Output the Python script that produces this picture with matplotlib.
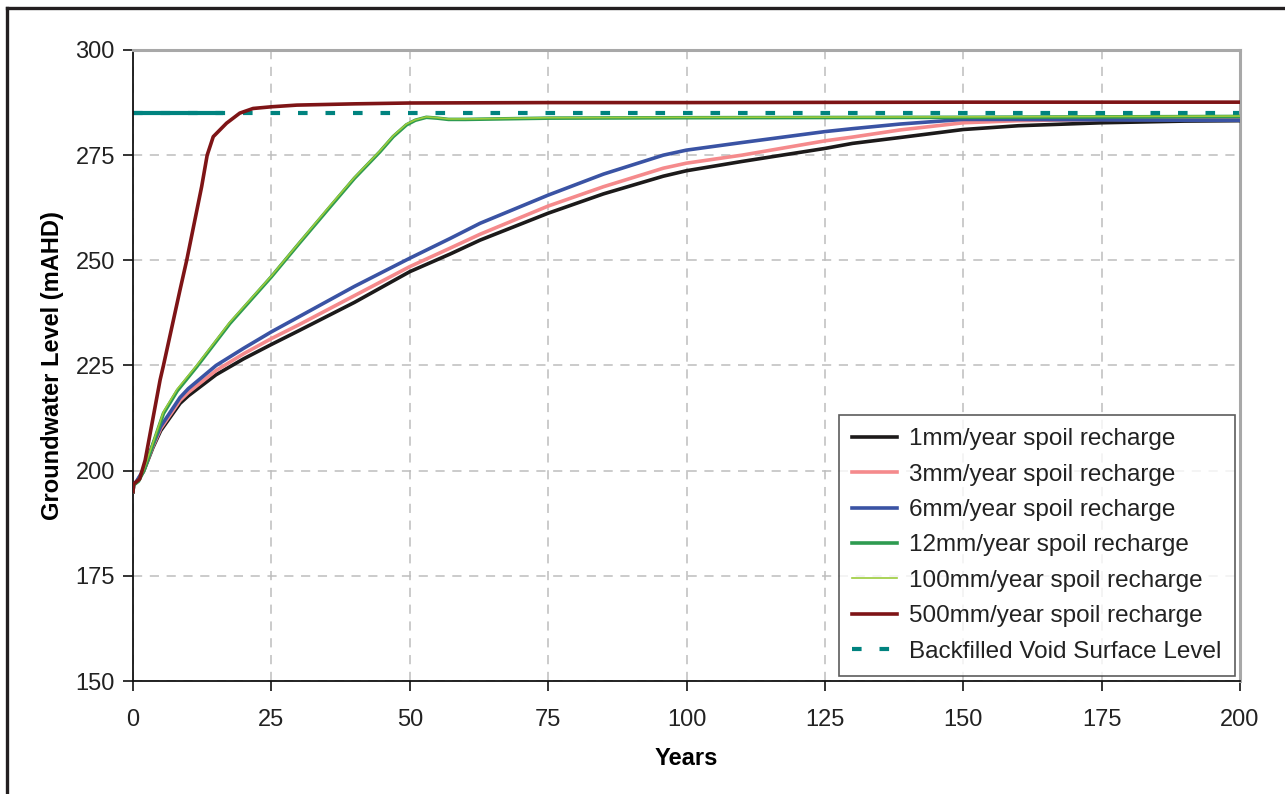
import numpy as np
import matplotlib
matplotlib.use('Agg')
import matplotlib.pyplot as plt
from matplotlib.lines import Line2D

plt.rcParams['font.family'] = ['Liberation Sans', 'DejaVu Sans']

# --- groundwater recovery series (years, mAHD) ---
years_slow = [0, 0.1, 0.7, 1.9, 3.6, 5, 8.5, 10, 15, 20, 25, 30, 40, 50, 57.3,
              62.7, 75, 85, 95.8, 100, 110, 125, 130, 138.6, 150, 160, 175,
              190, 200]
level_1mm = [195, 196.6, 197.4, 199.8, 205.5, 209.5, 216, 217.8, 222.8,
             226.6, 230, 233.3, 240, 247.3, 251.5, 254.8, 261.2, 265.8, 270,
             271.3, 273.5, 276.6, 277.8, 279.2, 281.1, 282, 282.7, 283.1,
             283.2]
level_3mm = [195, 196.6, 197.5, 200, 205.8, 210, 216.7, 218.6, 223.8, 227.8,
             231.4, 234.7, 241.6, 248.5, 252.9, 256.2, 262.9, 267.5, 271.9,
             273.1, 275, 278.4, 279.3, 281, 282.7, 283.2, 283.5, 283.5, 283.5]
level_6mm = [195, 196.6, 197.6, 200.2, 206.2, 210.5, 217.4, 219.5, 225, 229.1,
             233, 236.6, 243.8, 250.5, 255.2, 258.8, 265.5, 270.5, 275, 276.2,
             278, 280.6, 281.3, 282.4, 283.5, 283.5, 283.4, 283.3, 283.3]

years_12mm = [0, 0.1, 1, 2, 3, 5.5, 8, 11.5, 17.5, 25, 30, 35.6, 40, 44.6,
              47, 49.4, 51, 53, 55, 57, 60, 75, 100, 150, 200]
level_12mm = [195, 196.6, 197.5, 200.2, 204, 213.6, 219, 224.7, 235, 246.1,
              254, 262.7, 269.5, 275.8, 279.4, 282.2, 283.3, 284, 283.8,
              283.5, 283.5, 283.8, 283.9, 284, 284.2]
years_100mm = [0, 0.1, 1, 2, 3, 5.5, 8, 11.5, 17.5, 25, 30, 35.6, 40, 44.6,
               47, 49.4, 51, 53, 55, 57, 60, 75, 100, 150, 200]
level_100mm = [195, 196.6, 197.6, 200.4, 204.3, 214, 219.4, 225, 235.3, 246.3,
               254.2, 263, 269.7, 276, 279.6, 282.4, 283.4, 284.1, 283.9,
               283.6, 283.6, 283.9, 284, 284.1, 284.3]

years_500mm = [0, 0.1, 1.2, 2.2, 4.9, 5.5, 8.5, 9.7, 12.4, 13.4, 14.5, 16.9,
               19.3, 21.7, 25, 29.6, 40, 50, 75, 100, 150, 200]
level_500mm = [195, 196.8, 198, 202.5, 221.6, 225, 243, 250, 267.5, 275,
               279.4, 282.6, 285, 286.1, 286.5, 286.9, 287.2, 287.4, 287.5,
               287.5, 287.6, 287.6]

void_level = 285.0
void_years = [0, 200]
void_solid_end = 16.2

labels = ['1mm/year spoil recharge', '3mm/year spoil recharge',
          '6mm/year spoil recharge', '12mm/year spoil recharge',
          '100mm/year spoil recharge', '500mm/year spoil recharge',
          'Backfilled Void Surface Level']

fig = plt.figure(figsize=(12.85, 7.94), dpi=100)
ax = fig.add_axes([133 / 1285, 1 - 681 / 794, 1107 / 1285, 631 / 794])

teal = '#00837F'
ax.plot([0, void_solid_end], [void_level, void_level], color=teal, lw=3,
        solid_capstyle='butt', zorder=2)
ax.plot(void_years, [void_level] * 2, color=teal, lw=3,
        linestyle=(0, (2.3, 4.3)), zorder=2)

ax.plot(years_slow, level_1mm, color='#1C1A1A', lw=2.6, zorder=3)
ax.plot(years_slow, level_3mm, color='#F58A8C', lw=2.6, zorder=3)
ax.plot(years_slow, level_6mm, color='#3A53A4', lw=2.6, zorder=3)
ax.plot(years_12mm, level_12mm, color='#2E9B50', lw=2.6, zorder=3)
ax.plot(years_100mm, level_100mm, color='#9CCC3C', lw=1.2, zorder=4)
ax.plot(years_500mm, level_500mm, color='#7E1416', lw=2.6, zorder=5)

ax.set_xlim(0, 200)
ax.set_ylim(150, 300)
ax.set_xticks(np.arange(0, 201, 25))
ax.set_yticks(np.arange(150, 301, 25))
ax.grid(True, color='#BDBDBD', lw=1.1, linestyle=(0, (6, 5)))
ax.set_axisbelow(True)

for side in ['top', 'right']:
    ax.spines[side].set_color('#A8A8A8')
    ax.spines[side].set_linewidth(2.2)
for side in ['left', 'bottom']:
    ax.spines[side].set_color('#111111')
    ax.spines[side].set_linewidth(1.3)
ax.tick_params(axis='both', direction='out', length=7, width=1.2,
               labelsize=17, colors='#111111', labelcolor='#222222')
ax.tick_params(axis='x', pad=13)
ax.tick_params(axis='y', pad=6)

ax.set_xlabel('Years', fontsize=17, fontweight='bold', labelpad=12)
ax.set_ylabel('Groundwater Level (mAHD)', fontsize=17, fontweight='bold',
              labelpad=8)

handles = [
    Line2D([], [], color='#1C1A1A', lw=2.6),
    Line2D([], [], color='#F58A8C', lw=2.6),
    Line2D([], [], color='#3A53A4', lw=2.6),
    Line2D([], [], color='#2E9B50', lw=2.6),
    Line2D([], [], color='#9CCC3C', lw=1.2),
    Line2D([], [], color='#7E1416', lw=2.6),
    Line2D([], [], color=teal, lw=3, linestyle=(0, (2.3, 4.3))),
]
leg = ax.legend(handles, labels, loc='lower right',
                bbox_to_anchor=(0.9955, 0.008), borderaxespad=0,
                fontsize=17.5, frameon=True, fancybox=False,
                handlelength=1.85, handletextpad=0.5, labelspacing=0.55,
                borderpad=0.55)
leg.get_frame().set_edgecolor('#333333')
leg.get_frame().set_linewidth(1.2)
for t in leg.get_texts():
    t.set_color('#222222')

# page frame running off the right and bottom edges
fig.add_artist(Line2D([7 / 1285, 7 / 1285], [-0.1, 1 - 8 / 794],
                      transform=fig.transFigure, color='#231F20', lw=2.4))
fig.add_artist(Line2D([7 / 1285, 1.1], [1 - 8 / 794, 1 - 8 / 794],
                      transform=fig.transFigure, color='#231F20', lw=2.4))

fig.savefig('out.png', dpi=100, facecolor='white')
